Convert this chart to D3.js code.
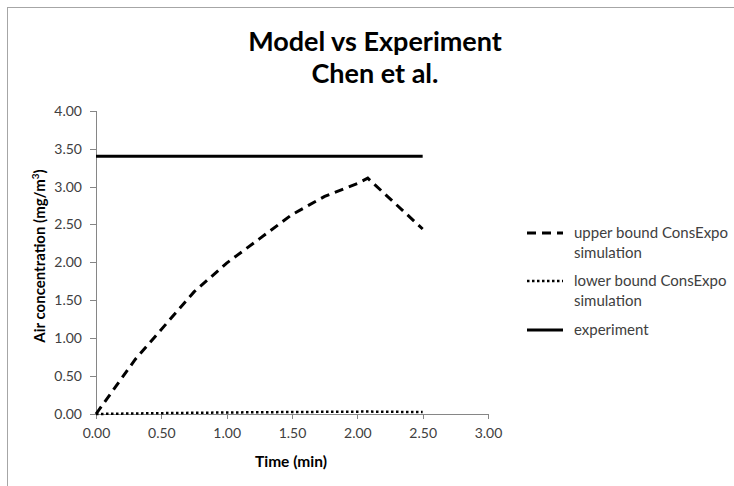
<!DOCTYPE html>
<html><head><meta charset="utf-8">
<script src="https://cdn.jsdelivr.net/npm/d3@7/dist/d3.min.js"></script>
<style>body{margin:0;background:#fff}svg{display:block}text{font-family:Lato,"Open Sans",sans-serif}</style>
</head><body><svg id="c" width="734" height="486"></svg>
<script>
const upperT = [0, 0.30, 0.75, 1.00, 1.25, 1.50, 1.75, 2.00, 2.08, 2.50];
const upperV = [0, 0.72, 1.61, 1.99, 2.31, 2.63, 2.87, 3.04, 3.11, 2.44];
const lowerT = [0, 0.25, 0.50, 0.75, 1.00, 1.25, 1.50, 1.75, 2.00, 2.08, 2.50];
const lowerV = [0, 0.006, 0.011, 0.016, 0.020, 0.023, 0.026, 0.029, 0.031, 0.032, 0.025];
const expT = [0, 2.50];
const expV = [3.40, 3.40];
const xTicks = [0, 0.5, 1, 1.5, 2, 2.5, 3];
const yTicks = [0, 0.5, 1, 1.5, 2, 2.5, 3, 3.5, 4];
const titleLines = ["Model vs Experiment", "Chen et al."];
const legendLabels = [["upper bound ConsExpo", "simulation"], ["lower bound ConsExpo", "simulation"], ["experiment"]];

const svg = d3.select("#c");
// outer frame
svg.append("rect").attr("x",7.5).attr("y",7.5).attr("width",800).attr("height",600)
  .attr("fill","none").attr("stroke","#a6a6a6").attr("stroke-width",1);

const x = d3.scaleLinear().domain([0,3]).range([96,488]);
const y = d3.scaleLinear().domain([0,4]).range([414,110.7]);

const axisColor = "#868686";
const gx = svg.append("g").attr("transform","translate(0,414)")
  .call(d3.axisBottom(x).tickValues(xTicks).tickFormat(d3.format(".2f")).tickSizeInner(5).tickSizeOuter(0).tickPadding(9));
const gy = svg.append("g").attr("transform","translate(96,0)")
  .call(d3.axisLeft(y).tickValues(yTicks).tickFormat(d3.format(".2f")).tickSizeInner(6).tickSizeOuter(0).tickPadding(8));
[gx,gy].forEach(g=>{
  g.selectAll("path,line").attr("stroke",axisColor).attr("shape-rendering","crispEdges");
  g.selectAll("text").attr("fill","#404040").style("font-size","14px").style("font-family","Lato,sans-serif");
});

const line = d3.line().x(d=>x(d[0])).y(d=>y(d[1]));
const series = [
  {t: lowerT, v: lowerV, dash: "2.5,2.5", w: 2.5},
  {t: upperT, v: upperV, dash: "9,6", w: 3},
  {t: expT, v: expV, dash: null, w: 3}
];
series.forEach(s=>{
  svg.append("path").datum(s.t.map((t,i)=>[t,s.v[i]]))
    .attr("d",line).attr("fill","none").attr("stroke","#000")
    .attr("stroke-width",s.w).attr("stroke-dasharray",s.dash);
});

// title
svg.append("text").attr("x",375).attr("y",51).attr("text-anchor","middle")
  .style("font-size","27px").style("font-weight","bold").attr("fill","#000").text(titleLines[0]);
svg.append("text").attr("x",375).attr("y",83).attr("text-anchor","middle")
  .style("font-size","27px").style("font-weight","bold").attr("fill","#000").text(titleLines[1]);

// axis titles
svg.append("text").attr("x",291).attr("y",467).attr("text-anchor","middle")
  .style("font-size","15.5px").style("font-weight","bold").attr("fill","#000").text("Time (min)");
const yt = svg.append("text").attr("transform","translate(45,256) rotate(-90)").attr("text-anchor","middle")
  .style("font-size","15px").style("font-weight","bold").attr("fill","#000");
yt.append("tspan").text("Air concentration (mg/m");
yt.append("tspan").attr("dy",-6).style("font-size","10px").text("3");
yt.append("tspan").attr("dy",6).text(")");

// legend
const legY = [233, 281, 330];
const legDash = ["9,6", "2.5,2.5", null];
const legW = [3, 2.5, 3];
legendLabels.forEach((lab,i)=>{
  svg.append("line").attr("x1",527).attr("x2",563).attr("y1",legY[i]).attr("y2",legY[i])
    .attr("stroke","#000").attr("stroke-width",legW[i]).attr("stroke-dasharray",legDash[i]);
  lab.forEach((s,j)=>{
    svg.append("text").attr("x",574).attr("y",legY[i]+5+j*20)
      .style("font-size","15px").attr("fill","#404040").text(s);
  });
});
</script></body></html>
